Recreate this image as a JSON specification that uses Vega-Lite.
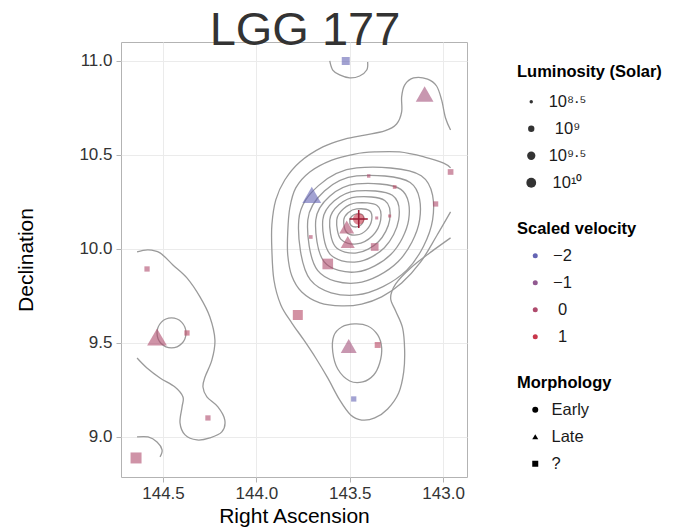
{
 "$schema": "https://vega.github.io/schema/vega-lite/v6.json",
 "autosize": {"type": "none"},
 "padding": {"left": 121, "top": 42, "right": 211, "bottom": 54},
 "background": "white",
 "width": 346,
 "height": 435,
 "view": {"stroke": "#b3b3b3", "strokeWidth": 1},
 "config": {
  "font": "Liberation Sans",
  "axis": {"labelFontSize": 17, "labelColor": "#333333", "titleFontSize": 21, "titleFontWeight": "normal", "titleColor": "#000000", "gridColor": "#ebebeb", "gridWidth": 1, "tickColor": "#b3b3b3", "tickSize": 5, "domain": false, "labelPadding": 3},
  "legend": {"orient": "none", "titleFontSize": 16.5, "titleFontWeight": "bold", "titleColor": "#000000", "labelFontSize": 16.5, "labelColor": "#1a1a1a", "rowPadding": 10, "titlePadding": 10, "padding": 0, "symbolOpacity": 1, "symbolStrokeWidth": 0}
 },
 "title": {"text": "LGG 177", "fontSize": 47, "fontWeight": "normal", "color": "#333333", "anchor": "middle", "frame": "group", "offset": -50, "dx": 11, "baseline": "alphabetic"},
 "datasets": {
  "rings": [
   {"c":"r1","i":0,"ra":143.4252,"dec":10.1543},{"c":"r1","i":1,"ra":143.4308,"dec":10.1814},{"c":"r1","i":2,"ra":143.4626,"dec":10.1862},{"c":"r1","i":3,"ra":143.4873,"dec":10.1754},{"c":"r1","i":4,"ra":143.5000,"dec":10.1543},{"c":"r1","i":5,"ra":143.4925,"dec":10.1245},{"c":"r1","i":6,"ra":143.4626,"dec":10.1171},{"c":"r1","i":7,"ra":143.4379,"dec":10.1297},
   {"c":"r2","i":0,"ra":143.3824,"dec":10.1543},{"c":"r2","i":1,"ra":143.3944,"dec":10.2040},{"c":"r2","i":2,"ra":143.4626,"dec":10.2128},{"c":"r2","i":3,"ra":143.5085,"dec":10.1929},{"c":"r2","i":4,"ra":143.5321,"dec":10.1543},{"c":"r2","i":5,"ra":143.5182,"dec":10.0905},{"c":"r2","i":6,"ra":143.4626,"dec":10.0745},{"c":"r2","i":7,"ra":143.4097,"dec":10.1016},
   {"c":"r3","i":0,"ra":143.3343,"dec":10.1543},{"c":"r3","i":1,"ra":143.3535,"dec":10.2312},{"c":"r3","i":2,"ra":143.4626,"dec":10.2447},{"c":"r3","i":3,"ra":143.5332,"dec":10.2140},{"c":"r3","i":4,"ra":143.5696,"dec":10.1543},{"c":"r3","i":5,"ra":143.5482,"dec":10.0522},{"c":"r3","i":6,"ra":143.4626,"dec":10.0266},{"c":"r3","i":7,"ra":143.3779,"dec":10.0700},
   {"c":"r4","i":0,"ra":143.2861,"dec":10.1543},{"c":"r4","i":1,"ra":143.3126,"dec":10.2583},{"c":"r4","i":2,"ra":143.4626,"dec":10.2766},{"c":"r4","i":3,"ra":143.5579,"dec":10.2350},{"c":"r4","i":4,"ra":143.6070,"dec":10.1543},{"c":"r4","i":5,"ra":143.5781,"dec":10.0139},{"c":"r4","i":6,"ra":143.4626,"dec":9.9788},{"c":"r4","i":7,"ra":143.3461,"dec":10.0384},
   {"c":"r5","i":0,"ra":143.2380,"dec":10.1543},{"c":"r5","i":1,"ra":143.2717,"dec":10.2854},{"c":"r5","i":2,"ra":143.4626,"dec":10.3086},{"c":"r5","i":3,"ra":143.5826,"dec":10.2561},{"c":"r5","i":4,"ra":143.6444,"dec":10.1543},{"c":"r5","i":5,"ra":143.6081,"dec":9.9756},{"c":"r5","i":6,"ra":143.4626,"dec":9.9309},{"c":"r5","i":7,"ra":143.3144,"dec":10.0069},
   {"c":"r6","i":0,"ra":143.1845,"dec":10.1543},{"c":"r6","i":1,"ra":143.2262,"dec":10.3171},{"c":"r6","i":2,"ra":143.4626,"dec":10.3458},{"c":"r6","i":3,"ra":143.6073,"dec":10.2807},{"c":"r6","i":4,"ra":143.6819,"dec":10.1543},{"c":"r6","i":5,"ra":143.6380,"dec":9.9330},{"c":"r6","i":6,"ra":143.4626,"dec":9.8777},{"c":"r6","i":7,"ra":143.2791,"dec":9.9717},
   {"c":"r7","i":0,"ra":143.1257,"dec":10.1543},{"c":"r7","i":1,"ra":143.1762,"dec":10.3532},{"c":"r7","i":2,"ra":143.4626,"dec":10.3883},{"c":"r7","i":3,"ra":143.6355,"dec":10.3088},{"c":"r7","i":4,"ra":143.7246,"dec":10.1543},{"c":"r7","i":5,"ra":143.6722,"dec":9.8862},{"c":"r7","i":6,"ra":143.4626,"dec":9.8192},{"c":"r7","i":7,"ra":143.2402,"dec":9.9331},
   {"c":"r8","i":0,"ra":143.0562,"dec":10.1543},{"c":"r8","i":1,"ra":143.1171,"dec":10.3894},{"c":"r8","i":2,"ra":143.4626,"dec":10.4309},{"c":"r8","i":3,"ra":143.6673,"dec":10.3369},{"c":"r8","i":4,"ra":143.7728,"dec":10.1543},{"c":"r8","i":5,"ra":143.7107,"dec":9.8352},{"c":"r8","i":6,"ra":143.4626,"dec":9.7554},{"c":"r8","i":7,"ra":143.1944,"dec":9.8875},
   {"c":"e","i":0,"ra":144.3770,"dec":9.5532},{"c":"e","i":1,"ra":144.3995,"dec":9.6096},{"c":"e","i":2,"ra":144.4546,"dec":9.6330},{"c":"e","i":3,"ra":144.5096,"dec":9.6096},{"c":"e","i":4,"ra":144.5321,"dec":9.5532},{"c":"e","i":5,"ra":144.5096,"dec":9.4968},{"c":"e","i":6,"ra":144.4546,"dec":9.4734},{"c":"e","i":7,"ra":144.3995,"dec":9.4968},
   {"c":"g","i":0,"ra":143.3289,"dec":9.4734},{"c":"g","i":1,"ra":143.3503,"dec":9.5426},{"c":"g","i":2,"ra":143.4037,"dec":9.5904},{"c":"g","i":3,"ra":143.4733,"dec":9.6011},{"c":"g","i":4,"ra":143.5428,"dec":9.5851},{"c":"g","i":5,"ra":143.5856,"dec":9.5372},{"c":"g","i":6,"ra":143.5909,"dec":9.4521},{"c":"g","i":7,"ra":143.5642,"dec":9.3617},{"c":"g","i":8,"ra":143.5000,"dec":9.2979},{"c":"g","i":9,"ra":143.4305,"dec":9.2926},{"c":"g","i":10,"ra":143.3717,"dec":9.3298},{"c":"g","i":11,"ra":143.3396,"dec":9.3936}
  ],
  "paths": [
   {"c":"a","i":0,"ra":143.607,"dec":11.0},{"c":"a","i":1,"ra":143.591,"dec":10.952},{"c":"a","i":2,"ra":143.554,"dec":10.926},{"c":"a","i":3,"ra":143.500,"dec":10.910},{"c":"a","i":4,"ra":143.447,"dec":10.920},{"c":"a","i":5,"ra":143.409,"dec":10.952},{"c":"a","i":6,"ra":143.404,"dec":10.995},
   {"c":"b","i":0,"ra":142.960,"dec":10.633},{"c":"b","i":1,"ra":142.987,"dec":10.697},{"c":"b","i":2,"ra":143.008,"dec":10.793},{"c":"b","i":3,"ra":143.035,"dec":10.867},{"c":"b","i":4,"ra":143.083,"dec":10.904},{"c":"b","i":5,"ra":143.158,"dec":10.910},{"c":"b","i":6,"ra":143.206,"dec":10.872},{"c":"b","i":7,"ra":143.222,"dec":10.809},{"c":"b","i":8,"ra":143.222,"dec":10.729},{"c":"b","i":9,"ra":143.249,"dec":10.665},{"c":"b","i":10,"ra":143.313,"dec":10.628},{"c":"b","i":11,"ra":143.420,"dec":10.606},{"c":"b","i":12,"ra":143.527,"dec":10.585},{"c":"b","i":13,"ra":143.644,"dec":10.543},{"c":"b","i":14,"ra":143.767,"dec":10.463},{"c":"b","i":15,"ra":143.848,"dec":10.367},{"c":"b","i":16,"ra":143.896,"dec":10.261},{"c":"b","i":17,"ra":143.917,"dec":10.128},{"c":"b","i":18,"ra":143.917,"dec":9.995},{"c":"b","i":19,"ra":143.906,"dec":9.835},{"c":"b","i":20,"ra":143.869,"dec":9.702},{"c":"b","i":21,"ra":143.810,"dec":9.606},{"c":"b","i":22,"ra":143.746,"dec":9.516},{"c":"b","i":23,"ra":143.682,"dec":9.420},{"c":"b","i":24,"ra":143.618,"dec":9.314},{"c":"b","i":25,"ra":143.554,"dec":9.197},{"c":"b","i":26,"ra":143.495,"dec":9.117},{"c":"b","i":27,"ra":143.436,"dec":9.090},{"c":"b","i":28,"ra":143.366,"dec":9.101},{"c":"b","i":29,"ra":143.297,"dec":9.149},{"c":"b","i":30,"ra":143.238,"dec":9.234},{"c":"b","i":31,"ra":143.211,"dec":9.346},{"c":"b","i":32,"ra":143.206,"dec":9.463},{"c":"b","i":33,"ra":143.217,"dec":9.580},{"c":"b","i":34,"ra":143.254,"dec":9.670},{"c":"b","i":35,"ra":143.281,"dec":9.739},{"c":"b","i":36,"ra":143.254,"dec":9.814},{"c":"b","i":37,"ra":143.174,"dec":9.899},{"c":"b","i":38,"ra":143.072,"dec":9.979},{"c":"b","i":39,"ra":142.960,"dec":10.059},
   {"c":"cc","i":0,"ra":142.960,"dec":10.431},{"c":"cc","i":1,"ra":142.997,"dec":10.457},{"c":"cc","i":2,"ra":143.099,"dec":10.489},{"c":"cc","i":3,"ra":143.233,"dec":10.516},{"c":"cc","i":4,"ra":143.366,"dec":10.516},{"c":"cc","i":5,"ra":143.473,"dec":10.505},{"c":"cc","i":6,"ra":143.596,"dec":10.473},{"c":"cc","i":7,"ra":143.714,"dec":10.410},{"c":"cc","i":8,"ra":143.789,"dec":10.325},{"c":"cc","i":9,"ra":143.821,"dec":10.218},{"c":"cc","i":10,"ra":143.832,"dec":10.090},{"c":"cc","i":11,"ra":143.832,"dec":9.968},{"c":"cc","i":12,"ra":143.810,"dec":9.856},{"c":"cc","i":13,"ra":143.757,"dec":9.771},{"c":"cc","i":14,"ra":143.660,"dec":9.713},{"c":"cc","i":15,"ra":143.543,"dec":9.697},{"c":"cc","i":16,"ra":143.436,"dec":9.707},{"c":"cc","i":17,"ra":143.329,"dec":9.745},{"c":"cc","i":18,"ra":143.222,"dec":9.819},{"c":"cc","i":19,"ra":143.120,"dec":9.931},{"c":"cc","i":20,"ra":143.035,"dec":10.069},{"c":"cc","i":21,"ra":142.960,"dec":10.197},
   {"c":"d","i":0,"ra":144.639,"dec":9.984},{"c":"d","i":1,"ra":144.580,"dec":9.995},{"c":"d","i":2,"ra":144.516,"dec":9.979},{"c":"d","i":3,"ra":144.447,"dec":9.915},{"c":"d","i":4,"ra":144.372,"dec":9.846},{"c":"d","i":5,"ra":144.302,"dec":9.745},{"c":"d","i":6,"ra":144.249,"dec":9.638},{"c":"d","i":7,"ra":144.222,"dec":9.516},{"c":"d","i":8,"ra":144.238,"dec":9.410},{"c":"d","i":9,"ra":144.275,"dec":9.319},{"c":"d","i":10,"ra":144.286,"dec":9.266},{"c":"d","i":11,"ra":144.265,"dec":9.213},{"c":"d","i":12,"ra":144.206,"dec":9.160},{"c":"d","i":13,"ra":144.169,"dec":9.090},{"c":"d","i":14,"ra":144.185,"dec":9.027},{"c":"d","i":15,"ra":144.249,"dec":8.995},{"c":"d","i":16,"ra":144.318,"dec":8.984},{"c":"d","i":17,"ra":144.382,"dec":9.011},{"c":"d","i":18,"ra":144.409,"dec":9.075},{"c":"d","i":19,"ra":144.398,"dec":9.160},{"c":"d","i":20,"ra":144.393,"dec":9.213},{"c":"d","i":21,"ra":144.436,"dec":9.266},{"c":"d","i":22,"ra":144.516,"dec":9.314},{"c":"d","i":23,"ra":144.586,"dec":9.367},{"c":"d","i":24,"ra":144.639,"dec":9.420},
   {"c":"f","i":0,"ra":144.639,"dec":9.000},{"c":"f","i":1,"ra":144.580,"dec":9.000},{"c":"f","i":2,"ra":144.532,"dec":8.973},{"c":"f","i":3,"ra":144.505,"dec":8.931},{"c":"f","i":4,"ra":144.516,"dec":8.894}
  ],
  "galaxies": [
   {"ra":143.5214,"dec":11.0,"lum":9.42,"vel":-2,"morph":"?"},
   {"ra":143.0989,"dec":10.8245,"lum":10.7,"vel":-0.4,"morph":"Late"},
   {"ra":142.9599,"dec":10.4096,"lum":8.86,"vel":0,"morph":"?"},
   {"ra":143.3984,"dec":10.3883,"lum":8.5,"vel":0,"morph":"?"},
   {"ra":143.2594,"dec":10.3298,"lum":8.53,"vel":0.3,"morph":"?"},
   {"ra":143.0401,"dec":10.2394,"lum":8.78,"vel":0,"morph":"?"},
   {"ra":143.7032,"dec":10.2872,"lum":11.0,"vel":-2,"morph":"Late"},
   {"ra":143.5161,"dec":10.1170,"lum":10.0,"vel":0,"morph":"Late"},
   {"ra":143.5107,"dec":10.0372,"lum":9.8,"vel":0,"morph":"Late"},
   {"ra":143.4519,"dec":10.1596,"lum":10.64,"vel":1,"morph":"Early"},
   {"ra":143.3556,"dec":10.1649,"lum":8.45,"vel":0,"morph":"?"},
   {"ra":143.2861,"dec":10.1755,"lum":8.45,"vel":0.3,"morph":"?"},
   {"ra":143.7086,"dec":10.0638,"lum":8.53,"vel":0,"morph":"?"},
   {"ra":143.3663,"dec":10.0106,"lum":9.34,"vel":0,"morph":"?"},
   {"ra":143.6177,"dec":9.9202,"lum":10.3,"vel":0,"morph":"?"},
   {"ra":143.7781,"dec":9.6489,"lum":10.06,"vel":0.2,"morph":"?"},
   {"ra":144.5321,"dec":9.5319,"lum":11.3,"vel":0,"morph":"Late"},
   {"ra":144.3717,"dec":9.5532,"lum":8.78,"vel":0.3,"morph":"?"},
   {"ra":144.5856,"dec":9.8936,"lum":8.78,"vel":0,"morph":"?"},
   {"ra":143.5054,"dec":9.4840,"lum":10.25,"vel":-0.4,"morph":"Late"},
   {"ra":143.3503,"dec":9.4894,"lum":8.92,"vel":0.3,"morph":"?"},
   {"ra":143.4786,"dec":9.2021,"lum":8.78,"vel":-2,"morph":"?"},
   {"ra":144.2594,"dec":9.1011,"lum":8.78,"vel":0,"morph":"?"},
   {"ra":144.6444,"dec":8.8883,"lum":10.43,"vel":0,"morph":"?"}
  ],
  "centre": [{"ra":143.4519,"dec":10.1596}]
 },
 "encoding": {
  "x": {"field": "ra", "type": "quantitative", "scale": {"domain": [142.872, 144.725], "reverse": true, "nice": false, "zero": false}, "axis": {"values": [143, 143.5, 144, 144.5], "format": ".1f", "title": "Right Ascension", "titlePadding": 4}},
  "y": {"field": "dec", "type": "quantitative", "scale": {"domain": [8.787, 11.101], "nice": false, "zero": false}, "axis": {"values": [9, 9.5, 10, 10.5, 11], "format": ".1f", "title": "Declination", "titlePadding": 42, "labelPadding": 4}}
 },
 "layer": [
  {"data": {"name": "rings"}, "mark": {"type": "line", "interpolate": "cardinal-closed", "color": "#9a9a9a", "strokeWidth": 1.3}, "encoding": {"detail": {"field": "c", "type": "nominal"}, "order": {"field": "i", "type": "quantitative"}}},
  {"data": {"name": "paths"}, "mark": {"type": "line", "interpolate": "cardinal", "color": "#9a9a9a", "strokeWidth": 1.3}, "encoding": {"detail": {"field": "c", "type": "nominal"}, "order": {"field": "i", "type": "quantitative"}}},
  {"data": {"name": "galaxies"}, "transform": [{"filter": "datum.morph != 'Late'"}],
   "mark": {"type": "point", "filled": true, "opacity": 0.6, "strokeWidth": 0},
   "encoding": {
    "size": {"field": "lum", "type": "quantitative", "scale": {"type": "linear", "domain": [8.5, 11], "range": [12, 153], "zero": false}, "legend": {"title": "Luminosity (Solar)", "values": [8.5, 9, 9.5, 10], "labelExpr": "datum.value == 8.5 ? '10⁸·⁵' : datum.value == 9 ? '10⁹' : datum.value == 9.5 ? '10⁹·⁵' : '10¹⁰'", "symbolFillColor": "#333333", "symbolType": "circle", "legendX": 396, "legendY": 22, "titlePadding": 13, "symbolOffset": 6, "labelAlign": "center", "labelOffset": 28}},
    "color": {"field": "vel", "type": "quantitative", "scale": {"domain": [-2, 1], "range": ["#6464b4", "#c8374b"], "interpolate": "lab"}, "legend": {"title": "Scaled velocity", "type": "symbol", "values": [-2, -1, 0, 1], "format": "d", "symbolSize": 25, "symbolType": "circle", "legendX": 396, "legendY": 179, "symbolOffset": 10, "labelAlign": "center", "labelOffset": 19}},
    "shape": {"field": "morph", "type": "nominal", "scale": {"domain": ["Early", "Late", "?"], "range": ["circle", "triangle-up", "square"]}, "legend": {"title": "Morphology", "symbolFillColor": "#333333", "symbolSize": 36, "legendX": 396, "legendY": 333, "symbolOffset": 10, "labelOffset": 8}}
   }},
  {"data": {"name": "galaxies"}, "transform": [{"filter": "datum.morph == 'Late'"}],
   "mark": {"type": "point", "filled": true, "opacity": 0.6, "strokeWidth": 0},
   "encoding": {
    "size": {"field": "lum", "type": "quantitative", "scale": {"type": "linear", "domain": [8.5, 11], "range": [28, 353], "zero": false}, "legend": null},
    "color": {"field": "vel", "type": "quantitative", "scale": {"domain": [-2, 1], "range": ["#6464b4", "#c8374b"], "interpolate": "lab"}},
    "shape": {"field": "morph", "type": "nominal", "scale": {"domain": ["Early", "Late", "?"], "range": ["circle", "triangle-up", "square"]}}
   }},
  {"data": {"name": "centre"}, "mark": {"type": "point", "shape": "M-1,0L1,0M0,-1L0,1", "filled": false, "stroke": "#9b1b35", "strokeWidth": 1.6, "size": 330, "opacity": 1}}
 ],
 "resolve": {"scale": {"size": "independent"}}
}
